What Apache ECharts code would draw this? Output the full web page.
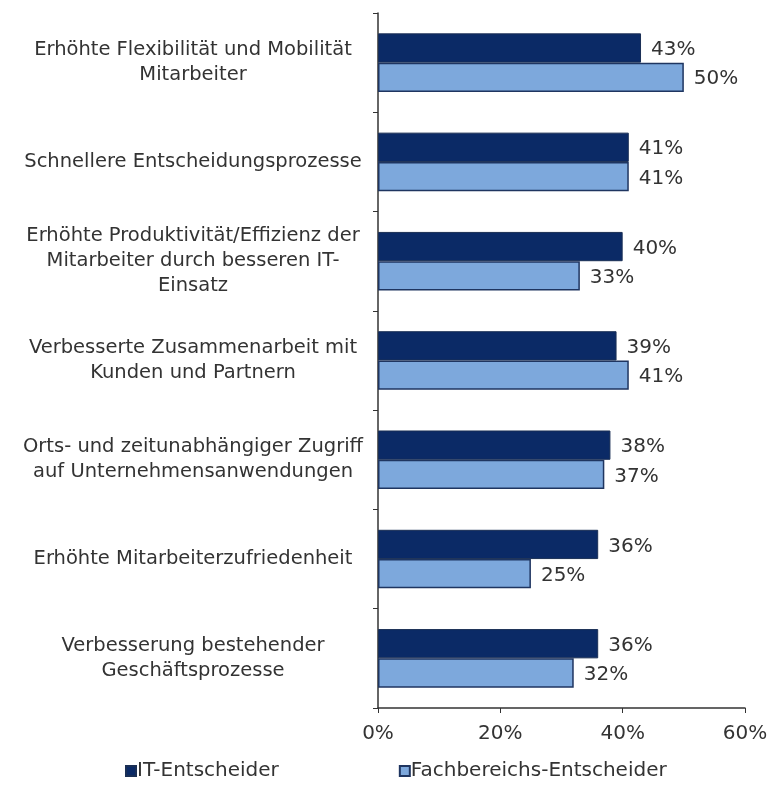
<!DOCTYPE html>
<html><head><meta charset="utf-8">
<script src="https://cdn.jsdelivr.net/npm/echarts@6/dist/echarts.min.js"></script>
<style>html,body{margin:0;padding:0;background:#fff}#c{width:767px;height:785px}</style>
</head><body><div id="c"></div>
<script>
const categories = [
  "Erhöhte Flexibilität und Mobilität\nMitarbeiter",
  "Schnellere Entscheidungsprozesse",
  "Erhöhte Produktivität/Effizienz der\nMitarbeiter durch besseren IT-\nEinsatz",
  "Verbesserte Zusammenarbeit mit\nKunden und Partnern",
  "Orts- und zeitunabhängiger Zugriff\nauf Unternehmensanwendungen",
  "Erhöhte Mitarbeiterzufriedenheit",
  "Verbesserung bestehender\nGeschäftsprozesse"
];
const seriesNames = ["IT-Entscheider", "Fachbereichs-Entscheider"];
const itValues = [43, 41, 40, 39, 38, 36, 36];
const fbValues = [50, 41, 33, 41, 37, 25, 32];
const xTicks = [0, 20, 40, 60];

const font = "DejaVu Sans";
const textColor = "#333333";
const chart = echarts.init(document.getElementById('c'));
chart.setOption({
  animation: false,
  backgroundColor: '#fff',
  textStyle: { fontFamily: font },
  grid: { left: 378, right: 22, top: 13, bottom: 77, outerBoundsMode: 'none', containLabel: false },
  legend: {
    data: seriesNames,
    top: 756,
    left: 120,
    itemGap: 120,
    itemWidth: 10, itemHeight: 10,
    icon: 'rect',
    textStyle: { fontFamily: font, fontSize: 20, color: textColor, padding: [0,0,0,-4] }
  },
  xAxis: {
    type: 'value', min: 0, max: 60, interval: 20,
    splitLine: { show: false },
    axisLine: { show: true, lineStyle: { color: '#333', width: 1.5 } },
    axisTick: { show: true, inside: false, length: 5, lineStyle: { color: '#333' } },
    axisLabel: { formatter: v => xTicks.includes(v) ? v + '%' : '', fontFamily: font, fontSize: 20, color: textColor, margin: 16 }
  },
  yAxis: {
    type: 'category', data: categories, inverse: true,
    axisLine: { show: true, lineStyle: { color: '#333', width: 1.5 } },
    axisTick: { show: true, length: 5, lineStyle: { color: '#333' } },
    axisLabel: { fontFamily: font, fontSize: 19.5, color: textColor, align: 'center', margin: 185, lineHeight: 25 }
  },
  series: [
    {
      name: seriesNames[0], type: 'bar', data: itValues,
      barGap: '0%', barCategoryGap: '41%',
      itemStyle: { color: '#0b2a66', borderColor: '#1a2f55', borderWidth: 1 },
      label: { show: true, position: 'right', distance: 10, offset: [0, 2], formatter: '{c}%', fontFamily: font, fontSize: 20, color: textColor }
    },
    {
      name: seriesNames[1], type: 'bar', data: fbValues,
      barGap: '0%', barCategoryGap: '41%',
      itemStyle: { color: '#7da8dc', borderColor: '#1f3560', borderWidth: 1.5 },
      label: { show: true, position: 'right', distance: 10, offset: [0, 2], formatter: '{c}%', fontFamily: font, fontSize: 20, color: textColor }
    }
  ]
});
</script></body></html>
